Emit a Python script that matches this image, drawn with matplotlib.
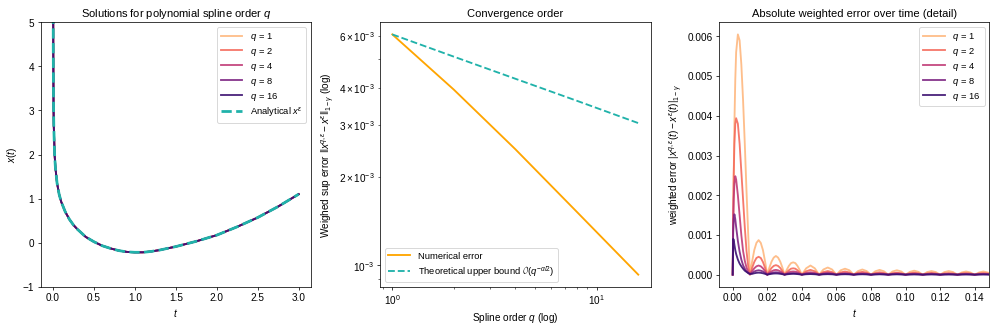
import matplotlib
matplotlib.use("Agg")

import numpy as np
import matplotlib.pyplot as plt

plt.rcParams['font.family'] = ['Liberation Sans', 'DejaVu Sans']
plt.rcParams['font.size'] = 10.8
plt.rcParams['mathtext.fontset'] = 'custom'
plt.rcParams['mathtext.rm'] = 'Liberation Sans'
plt.rcParams['mathtext.it'] = 'Liberation Sans:italic'
plt.rcParams['mathtext.bf'] = 'Liberation Sans:bold'
plt.rcParams['legend.fontsize'] = 10.2
plt.rcParams['legend.labelspacing'] = 0.3
plt.rcParams['legend.handlelength'] = 2.3

# spline orders
orders = [1, 2, 4, 8, 16]

# left panel: solution x(t) (all spline orders coincide with the analytical one)
t_sol = [0.0005, 0.002, 0.004, 0.007, 0.01, 0.02, 0.03, 0.05, 0.075, 0.1, 0.15, 0.2,
         0.25, 0.3, 0.4, 0.5, 0.6, 0.7, 0.8, 0.9, 1.0, 1.1, 1.2, 1.3, 1.4, 1.5,
         1.75, 2.0, 2.25, 2.5, 2.75, 3.0]
x_sol = [12.0, 6.0, 4.3, 3.1, 2.65, 2.0, 1.7, 1.35, 1.1, 0.93, 0.7, 0.53,
         0.4, 0.3, 0.13, 0.02, -0.07, -0.13, -0.18, -0.21, -0.22, -0.22, -0.2, -0.17, -0.13, -0.09,
         0.03, 0.17, 0.36, 0.57, 0.82, 1.1]

# middle panel: sup error vs spline order
num_error = [6.08e-3, 3.95e-3, 2.48e-3, 1.52e-3, 0.93e-3]
bound = [6.08e-3, 5.11e-3, 4.30e-3, 3.62e-3, 3.04e-3]

# right panel: weighted error over time (values in units of 1e-4)
t_err = [0, 0.0003, 0.0006, 0.001, 0.0015, 0.002, 0.003, 0.004, 0.005, 0.006, 0.007, 0.008, 0.009, 0.01,
         0.01125, 0.0125, 0.01375, 0.015, 0.01625, 0.0175, 0.01875, 0.02,
         0.02125, 0.0225, 0.02375, 0.025, 0.02625, 0.0275, 0.02875, 0.03,
         0.03125, 0.0325, 0.03375, 0.035, 0.03625, 0.0375, 0.03875, 0.04,
         0.0425, 0.045, 0.0475, 0.05, 0.0525, 0.055, 0.0575, 0.06,
         0.0625, 0.065, 0.0675, 0.07, 0.0725, 0.075, 0.0775, 0.08,
         0.0825, 0.085, 0.0875, 0.09, 0.0925, 0.095, 0.0975, 0.1,
         0.1025, 0.105, 0.1075, 0.11, 0.1125, 0.115, 0.1175, 0.12,
         0.1225, 0.125, 0.1275, 0.13, 0.1325, 0.135, 0.1375, 0.14,
         0.1425, 0.145, 0.1475, 0.15]
err_q1 = [0, 13, 25, 38, 49, 56, 60.5, 59, 53, 44, 33, 21, 10, 0,
          3.3, 6.2, 8.0, 8.7, 8.0, 6.2, 3.3, 0,
          1.8, 3.3, 4.3, 4.7, 4.3, 3.3, 1.8, 0,
          1.2, 2.2, 2.9, 3.1, 2.9, 2.2, 1.2, 0,
          1.6, 2.3, 1.6, 0, 1.3, 1.8, 1.3, 0, 1.1, 1.5, 1.1, 0, 0.9, 1.3, 0.9, 0,
          0.85, 1.2, 0.85, 0, 0.8, 1.1, 0.8, 0, 0.7, 1.0, 0.7, 0, 0.65, 0.9, 0.65, 0,
          0.65, 0.9, 0.65, 0, 0.55, 0.8, 0.55, 0, 0.55, 0.8, 0.55, 0]
err_q2 = [0, 15, 25, 33, 38, 39.4, 38, 33, 26, 19, 12, 6, 2, 0,
          1.7, 3.2, 4.2, 4.5, 4.2, 3.2, 1.7, 0,
          0.9, 1.7, 2.2, 2.4, 2.2, 1.7, 0.9, 0,
          0.6, 1.1, 1.5, 1.6, 1.5, 1.1, 0.6, 0,
          0.85, 1.2, 0.85, 0, 0.65, 0.9, 0.65, 0, 0.55, 0.8, 0.55, 0, 0.5, 0.7, 0.5, 0,
          0.4, 0.6, 0.4, 0, 0.35, 0.5, 0.35, 0, 0.35, 0.5, 0.35, 0, 0.3, 0.45, 0.3, 0,
          0.3, 0.4, 0.3, 0, 0.3, 0.4, 0.3, 0, 0.3, 0.4, 0.3, 0]
err_q4 = [0, 13, 19, 23, 24.8, 24, 20, 15, 10, 6, 3.5, 1.8, 0.7, 0.1,
          0.9, 1.6, 2.1, 2.3, 2.1, 1.6, 0.9, 0,
          0.5, 0.85, 1.1, 1.2, 1.1, 0.85, 0.5, 0,
          0.3, 0.6, 0.75, 0.8, 0.75, 0.6, 0.3, 0,
          0.42, 0.6, 0.42, 0, 0.35, 0.5, 0.35, 0, 0.28, 0.4, 0.28, 0, 0.25, 0.35, 0.25, 0,
          0.21, 0.3, 0.21, 0, 0.21, 0.3, 0.21, 0, 0.18, 0.25, 0.18, 0, 0.18, 0.25, 0.18, 0,
          0.14, 0.2, 0.14, 0, 0.14, 0.2, 0.14, 0, 0.14, 0.2, 0.14, 0]
err_q8 = [0, 11, 14, 15.2, 14, 12, 8.5, 5.8, 3.8, 2.4, 1.5, 0.8, 0.4, 0.1,
          0.4, 0.8, 1.0, 1.1, 1.0, 0.8, 0.4, 0,
          0.23, 0.42, 0.55, 0.6, 0.55, 0.42, 0.23, 0,
          0.15, 0.28, 0.37, 0.4, 0.37, 0.28, 0.15, 0,
          0.21, 0.3, 0.21, 0, 0.18, 0.25, 0.18, 0, 0.14, 0.2, 0.14, 0, 0.13, 0.18, 0.13, 0,
          0.11, 0.15, 0.11, 0, 0.11, 0.15, 0.11, 0, 0.08, 0.12, 0.08, 0, 0.08, 0.12, 0.08, 0,
          0.07, 0.1, 0.07, 0, 0.07, 0.1, 0.07, 0, 0.07, 0.1, 0.07, 0]
err_q16 = [0, 9.0, 8.8, 7.5, 6.2, 5.2, 3.8, 2.8, 2.1, 1.5, 1.0, 0.7, 0.4, 0.2,
           0.2, 0.35, 0.46, 0.5, 0.46, 0.35, 0.2, 0,
           0.12, 0.21, 0.28, 0.3, 0.28, 0.21, 0.12, 0,
           0.08, 0.14, 0.18, 0.2, 0.18, 0.14, 0.08, 0,
           0.1, 0.15, 0.1, 0, 0.08, 0.12, 0.08, 0, 0.07, 0.1, 0.07, 0, 0.06, 0.09, 0.06, 0,
           0.05, 0.08, 0.05, 0, 0.05, 0.07, 0.05, 0, 0.04, 0.06, 0.04, 0, 0.04, 0.06, 0.04, 0,
           0.035, 0.05, 0.035, 0, 0.035, 0.05, 0.035, 0, 0.035, 0.05, 0.035, 0]
errors = [err_q1, err_q2, err_q4, err_q8, err_q16]

colors = plt.cm.magma(np.linspace(0.85, 0.2, len(orders)))

fig = plt.figure(figsize=(15, 5), dpi=66.47)
ax1 = fig.add_axes([0.0408, 0.1364, 0.2711, 0.7952])
ax2 = fig.add_axes([0.3811, 0.1364, 0.2714, 0.7952])
ax3 = fig.add_axes([0.7215, 0.1364, 0.2708, 0.7952])

# --- left: solutions
for q, c in zip(orders, colors):
    ax1.plot(t_sol, x_sol, color=c, lw=2, alpha=0.9, label=rf"$q\,=\,{q}$")
ax1.plot(t_sol, x_sol, color="lightseagreen", lw=3, ls="--", label=r"Analytical $x^\varepsilon$")
ax1.set_xlim(-0.15, 3.15)
ax1.set_ylim(-1, 5)
ax1.set_xlabel("$t$")
ax1.set_ylabel("$x(t)$")
ax1.set_title("Solutions for polynomial spline order $q$", fontsize=12)
ax1.legend(loc="upper right")

# --- middle: convergence order
ax2.loglog(orders, num_error, color="orange", lw=2, label="Numerical error")
ax2.loglog(orders, bound, color="lightseagreen", lw=2, ls="--",
           label=r"Theoretical upper bound $\mathcal{O}(q^{-\alpha/2})$")
ax2.set_xlabel("Spline order $q$ (log)")
ax2.set_ylabel(r"Weighed sup error $\|x^{q,\varepsilon} - x^\varepsilon\|_{1-\gamma}$ (log)")
ax2.set_title("Convergence order", fontsize=12)
ax2.legend(loc="lower left")

# --- right: weighted error over time
for q, c, e in zip(orders, colors, errors):
    ax3.plot(t_err, np.array(e) * 1e-4, color=c, lw=2, alpha=0.9, label=rf"$q\,=\,{q}$")
ax3.set_xlim(-0.0077, 0.1485)
ax3.set_xticks([0, 0.02, 0.04, 0.06, 0.08, 0.10, 0.12, 0.14])
ax3.set_xlabel("$t$")
ax3.set_ylabel(r"weighted error $|x^{q,\varepsilon}(t) - x^\varepsilon(t)|_{1-\gamma}$")
ax3.set_title("Absolute weighted error over time (detail)", fontsize=12)
ax3.legend(loc="upper right")

fig.savefig("out.png", dpi=66.47)
